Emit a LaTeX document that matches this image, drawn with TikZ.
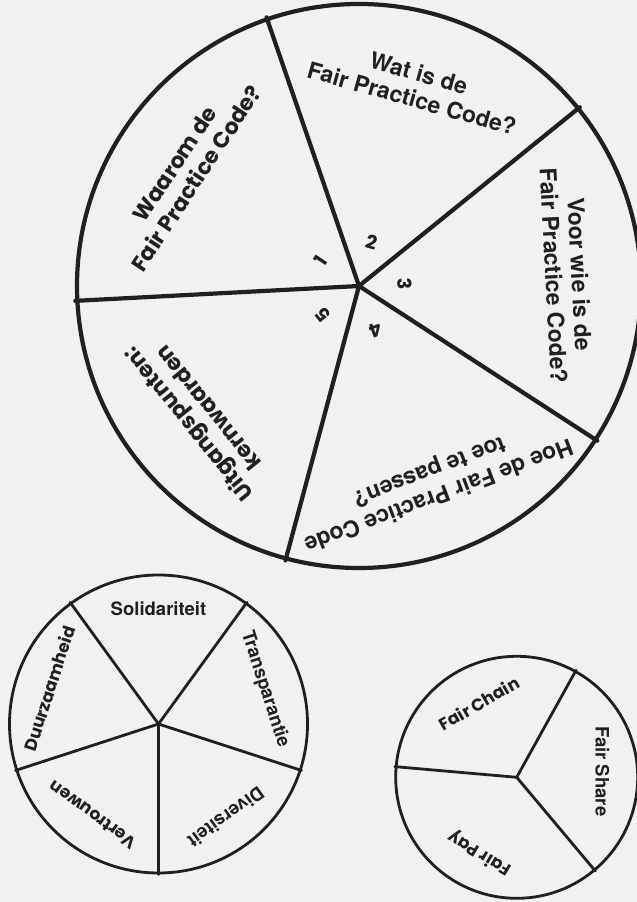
\documentclass[tikz,border=0pt]{standalone}
\usepackage{fontspec}
\setmainfont{TeX Gyre Heros}
\newfontfamily\pop{Poppins}
\usetikzlibrary{calc}
\definecolor{ink}{HTML}{231F20}
\definecolor{bg}{HTML}{F0F1F3}
\begin{document}
\begin{tikzpicture}[x=1pt,y=1pt,
  bigwheel/.style={circle, draw=ink, line width=4.2pt, minimum size=564pt, inner sep=0pt},
  bigspoke/.style={draw=ink, line width=4.2pt, line cap=round},
  smallwheel/.style={circle, draw=ink, line width=2.8pt, inner sep=0pt},
  smallspoke/.style={draw=ink, line width=2.8pt, line cap=round},
  bigheros/.style={text=ink, align=center, inner sep=0pt, font=\bfseries\fontsize{23}{26}\selectfont},
  bigpop/.style={text=ink, align=center, inner sep=0pt, font=\pop\bfseries\fontsize{22}{26}\selectfont},
  numtxt/.style={text=ink, inner sep=0pt, font=\pop\bfseries\fontsize{19}{22}\selectfont},
  smallheros/.style={text=ink, inner sep=0pt, font=\bfseries\fontsize{18.5}{22}\selectfont},
  smallpop/.style={text=ink, inner sep=0pt, font=\pop\bfseries\fontsize{17}{20}\selectfont}
]
\useasboundingbox (0,0) rectangle (637,902);
\clip (0,0) rectangle (637,902);
\fill[bg] (0,0) rectangle (637,902);

% big wheel
\node[bigwheel] (big) at (359,616) {};
\foreach \a in {109.5,39,-33,-105.5,183.5}
  \draw[bigspoke] (big.center) -- (big.\a);
\node[bigpop, rotate=56.5] (t1) at ($(big.center)+(146.5:208)$) {Waarom de\\Fair Practice Code?};
\node[bigheros, rotate=-15.75] (t2) at ($(big.center)+(74.25:208)$) {Wat is de\\Fair Practice Code?};
\node[bigheros, rotate=-87] (t3) at ($(big.center)+(3:208)$) {Voor wie is de\\Fair Practice Code?};
\node[bigheros, rotate=-159.25] (t4) at ($(big.center)+(-69.25:210)$) {Hoe de Fair Practice Code\\toe te passen?};
\node[bigpop, rotate=129] (t5) at ($(big.center)+(219:208)$) {Uitgangspunten:\\kernwaarden};
\node[numtxt, rotate=56.5] (n1) at ($(big.center)+(146.5:46)$) {1};
\node[numtxt, rotate=-15.75] (n2) at ($(big.center)+(74.25:46)$) {2};
\node[numtxt, rotate=-87] (n3) at ($(big.center)+(3:46)$) {3};
\node[numtxt, rotate=-159.25] (n4) at ($(big.center)+(-69.25:47)$) {4};
\node[numtxt, rotate=129] (n5) at ($(big.center)+(219:46)$) {5};

% values wheel
\node[smallwheel, minimum size=298pt] (vals) at (158.5,178) {};
\foreach \a in {-90,-18,54,126,198}
  \draw[smallspoke] (vals.center) -- (vals.\a);
\node[smallheros] (v1) at ($(vals.center)+(90:115)$) {Solidariteit};
\node[smallheros, rotate=-72] (v2) at ($(vals.center)+(18:112)$) {Transparantie};
\node[smallheros, rotate=-144] (v3) at ($(vals.center)+(-54:115)$) {Diversiteit};
\node[smallpop, rotate=144] (v4) at ($(vals.center)+(-126:112)$) {Vertrouwen};
\node[smallpop, rotate=72] (v5) at ($(vals.center)+(162:115)$) {Duurzaamheid};

% fair wheel
\node[smallwheel, minimum size=242pt] (fair) at (516.7,124.7) {};
\foreach \a in {61,175,-50.5}
  \draw[smallspoke] (fair.center) -- (fair.\a);
\node[smallpop, rotate=30] (f1) at ($(fair.center)+(117:83)$) {Fair Chain};
\node[smallheros, rotate=-90] (f2) at ($(fair.center)+(4:86)$) {Fair Share};
\node[smallpop, rotate=149] (f3) at ($(fair.center)+(-116:84)$) {Fair Pay};
\end{tikzpicture}
\end{document}
